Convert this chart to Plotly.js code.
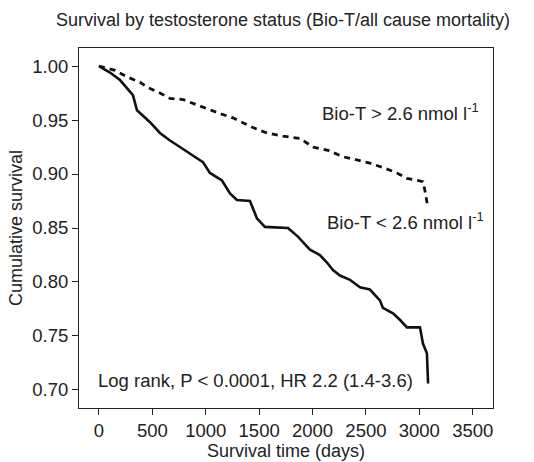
<!DOCTYPE html>
<html>
<head>
<meta charset="utf-8">
<script src="https://cdn.plot.ly/plotly-3.0.1.min.js"></script>
<style>html,body{margin:0;padding:0;background:#fff;}#chart{width:534px;height:462px;}</style>
</head>
<body>
<div id="chart"></div>
<script>
// Low Bio-T group (< 2.6 nmol/l), solid line
const lowDays = [0, 103, 197, 318, 356, 478, 571, 665, 758, 852, 974, 1039, 1152, 1227, 1292, 1414, 1479, 1554, 1770, 1863, 1976, 2069, 2135, 2191, 2257, 2350, 2444, 2537, 2631, 2659, 2753, 2818, 2884, 3006, 3034, 3071, 3080, 3082];
const lowSurv = [1.000, 0.994, 0.987, 0.973, 0.959, 0.948, 0.938, 0.931, 0.925, 0.919, 0.911, 0.901, 0.894, 0.882, 0.876, 0.875, 0.859, 0.851, 0.850, 0.842, 0.830, 0.825, 0.818, 0.811, 0.806, 0.802, 0.795, 0.793, 0.783, 0.776, 0.771, 0.765, 0.758, 0.758, 0.743, 0.734, 0.712, 0.706];

// High Bio-T group (> 2.6 nmol/l), dashed line
const highDays = [0, 150, 262, 384, 459, 571, 665, 787, 918, 1021, 1133, 1255, 1367, 1442, 1573, 1723, 1882, 2004, 2144, 2285, 2416, 2537, 2659, 2790, 2884, 3006, 3034, 3052, 3071, 3080];
const highSurv = [1.000, 0.996, 0.990, 0.985, 0.980, 0.975, 0.970, 0.969, 0.964, 0.960, 0.956, 0.952, 0.947, 0.943, 0.938, 0.935, 0.933, 0.925, 0.922, 0.916, 0.913, 0.910, 0.906, 0.901, 0.896, 0.894, 0.893, 0.885, 0.876, 0.869];

const xTicks = [0, 500, 1000, 1500, 2000, 2500, 3000, 3500];
const yTicks = [0.70, 0.75, 0.80, 0.85, 0.90, 0.95, 1.00];
const yTickLabels = ['0.70', '0.75', '0.80', '0.85', '0.90', '0.95', '1.00'];

const FONT = 'Liberation Sans, Arial, sans-serif';

const traces = [
  {x: lowDays, y: lowSurv, mode: 'lines', line: {color: '#111', width: 2.6, shape: 'linear'}, hoverinfo: 'skip'},
  {x: highDays, y: highSurv, mode: 'lines', line: {color: '#111', width: 2.8, shape: 'linear', dash: '6px,5px'}, hoverinfo: 'skip'}
];

const layout = {
  width: 534, height: 462,
  margin: {l: 79, r: 41, t: 48, b: 54},
  paper_bgcolor: '#fff', plot_bgcolor: '#fff',
  showlegend: false,
  font: {family: FONT, color: '#222', size: 18},
  title: {text: 'Survival by testosterone status (Bio-T/all cause mortality)', font: {family: FONT, size: 18, color: '#222'}, x: 0.53, xanchor: 'center', y: 0.957, yanchor: 'middle'},
  xaxis: {
    range: [-187, 3690], tickvals: xTicks, ticktext: xTicks.map(String),
    ticks: 'outside', ticklen: 6, tickwidth: 1, tickcolor: '#222',
    showline: true, linecolor: '#222', linewidth: 1, mirror: true,
    showgrid: false, zeroline: false,
    tickfont: {family: FONT, size: 18.5, color: '#222'},
    title: {text: 'Survival time (days)', font: {family: FONT, size: 18, color: '#222'}, standoff: 2}
  },
  yaxis: {
    range: [0.6833, 1.0167], tickvals: yTicks, ticktext: yTickLabels,
    ticks: 'outside', ticklen: 6, tickwidth: 1, tickcolor: '#222',
    showline: true, linecolor: '#222', linewidth: 1, mirror: true,
    showgrid: false, zeroline: false,
    tickfont: {family: FONT, size: 18.5, color: '#222'},
    title: {text: 'Cumulative survival', font: {family: FONT, size: 18, color: '#222'}, standoff: 4}
  },
  annotations: [
    {x: 2070, y: 0.9575, xref: 'x', yref: 'y', text: 'Bio-T > 2.6 nmol l<sup>-1</sup>', showarrow: false, xanchor: 'left', yanchor: 'middle', font: {family: FONT, size: 18.5, color: '#222'}},
    {x: 2115, y: 0.8565, xref: 'x', yref: 'y', text: 'Bio-T < 2.6 nmol l<sup>-1</sup>', showarrow: false, xanchor: 'left', yanchor: 'middle', font: {family: FONT, size: 18.5, color: '#222'}},
    {x: -28, y: 0.7085, xref: 'x', yref: 'y', text: 'Log rank, P < 0.0001, HR 2.2 (1.4-3.6)', showarrow: false, xanchor: 'left', yanchor: 'middle', font: {family: FONT, size: 18.5, color: '#222'}}
  ]
};

Plotly.newPlot('chart', traces, layout, {staticPlot: true, displayModeBar: false});
</script>
</body>
</html>
